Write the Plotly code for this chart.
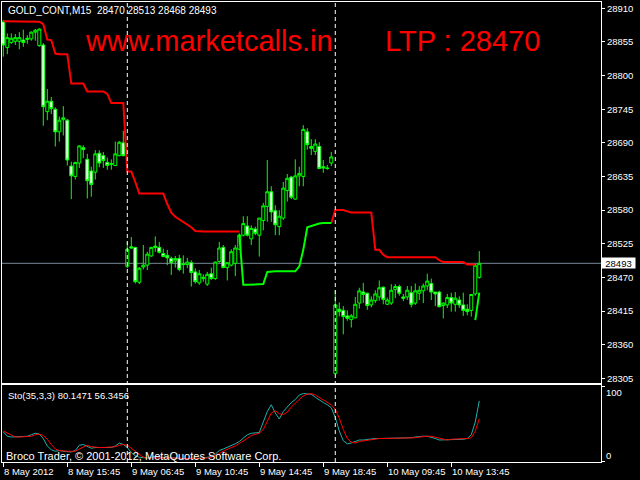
import plotly.graph_objects as go

# ---------------- data ----------------
bar_index = list(range(120))

opens = [28888, 28846, 28854, 28856, 28856, 28858, 28859, 28860, 28871, 28849,
         28850, 28741, 28758, 28745, 28708, 28728, 28727, 28652, 28635, 28657,
         28682, 28663, 28644, 28642, 28673, 28669, 28658, 28656, 28653, 28669,
         28690, 28488, 28520, 28519, 28462, 28487, 28490, 28505, 28521, 28519,
         28509, 28506, 28501, 28497, 28501, 28492, 28491, 28494, 28479, 28461,
         28468, 28459, 28476, 28468, 28496, 28519, 28486, 28490, 28493, 28516,
         28539, 28554, 28533, 28549, 28539, 28563, 28586, 28610, 28579, 28553,
         28567, 28612, 28634, 28598, 28636, 28635, 28708, 28684, 28676, 28684,
         28651, 28649, 28657, 28313, 28418, 28416, 28407, 28401, 28404, 28428,
         28446, 28444, 28425, 28432, 28438, 28454, 28426, 28428, 28450, 28455,
         28438, 28438, 28445, 28428, 28444, 28448, 28456, 28460, 28446, 28446,
         28424, 28425, 28437, 28426, 28433, 28425, 28418, 28416, 28443, 28470]

highs = [28891, 28869, 28869, 28868, 28871, 28875, 28866, 28872, 28876, 28877,
         28853, 28778, 28765, 28748, 28733, 28750, 28729, 28659, 28659, 28686,
         28686, 28672, 28651, 28678, 28678, 28675, 28666, 28663, 28692, 28693,
         28710, 28528, 28536, 28520, 28487, 28523, 28512, 28520, 28537, 28528,
         28517, 28515, 28504, 28505, 28507, 28506, 28502, 28498, 28485, 28482,
         28475, 28479, 28486, 28496, 28528, 28523, 28494, 28516, 28523, 28542,
         28570, 28570, 28555, 28553, 28567, 28592, 28662, 28619, 28588, 28580,
         28626, 28639, 28636, 28663, 28651, 28719, 28714, 28696, 28696, 28691,
         28662, 28654, 28675, 28449, 28429, 28423, 28416, 28410, 28438, 28453,
         28461, 28445, 28439, 28449, 28465, 28455, 28437, 28459, 28459, 28458,
         28443, 28456, 28456, 28460, 28456, 28460, 28476, 28468, 28446, 28448,
         28429, 28443, 28445, 28446, 28439, 28445, 28426, 28443, 28492, 28513]

lows = [28831, 28835, 28852, 28850, 28843, 28847, 28852, 28857, 28857, 28847,
        28718, 28727, 28737, 28684, 28692, 28702, 28653, 28598, 28630, 28649,
        28665, 28599, 28602, 28630, 28650, 28649, 28646, 28646, 28653, 28668,
        28668, 28485, 28517, 28460, 28459, 28483, 28482, 28504, 28512, 28509,
        28503, 28490, 28474, 28486, 28480, 28476, 28485, 28455, 28460, 28458,
        28463, 28456, 28466, 28466, 28494, 28485, 28465, 28488, 28472, 28515,
        28537, 28537, 28523, 28539, 28504, 28547, 28561, 28561, 28539, 28539,
        28564, 28594, 28598, 28597, 28619, 28619, 28679, 28670, 28670, 28648,
        28641, 28646, 28652, 28311, 28406, 28377, 28399, 28388, 28403, 28419,
        28428, 28417, 28421, 28428, 28432, 28426, 28425, 28425, 28436, 28440,
        28431, 28433, 28421, 28425, 28433, 28428, 28449, 28433, 28423, 28421,
        28403, 28420, 28414, 28414, 28420, 28407, 28408, 28406, 28440, 28468]

closes = [28850, 28862, 28861, 28862, 28862, 28854, 28861, 28871, 28874, 28876,
          28749, 28758, 28746, 28708, 28727, 28731, 28662, 28636, 28658, 28685,
          28679, 28628, 28622, 28672, 28657, 28661, 28653, 28655, 28672, 28691,
          28669, 28516, 28518, 28463, 28485, 28490, 28508, 28519, 28519, 28511,
          28504, 28502, 28494, 28501, 28483, 28491, 28495, 28478, 28463, 28476,
          28470, 28475, 28468, 28495, 28518, 28486, 28494, 28512, 28518, 28539,
          28558, 28539, 28550, 28542, 28567, 28587, 28610, 28577, 28556, 28570,
          28616, 28632, 28601, 28636, 28640, 28712, 28687, 28681, 28688, 28648,
          28649, 28648, 28667, 28425, 28414, 28406, 28403, 28407, 28426, 28448,
          28442, 28424, 28433, 28443, 28453, 28434, 28433, 28449, 28455, 28444,
          28436, 28449, 28426, 28448, 28449, 28456, 28464, 28446, 28443, 28422,
          28428, 28437, 28428, 28436, 28425, 28416, 28414, 28442, 28490, 28493]

N = None
upper_stop = [28889, 28889, 28889, 28889, 28889, 28889, 28889, 28889, 28889, 28888,
              28884, 28859, 28858, 28836, 28835, 28835, 28835, 28787, 28787, 28787,
              28787, 28774, 28774, 28774, 28774, 28774, 28770, 28755, 28755, 28755,
              28755, 28643, 28643, 28626, 28607, 28607, 28607, 28607, 28607, 28607,
              28607, 28590, 28576, 28569, 28565, 28561, 28556, 28552, 28546, 28545,
              28545, 28545, 28545, 28545, 28545, 28545, 28545, 28545, 28545, 28545,
              N, N, N, N, N, N, N, N, N, N,
              N, N, N, N, N, N, N, N, N, N,
              N, N, 28559, 28580, 28580, 28580, 28578, 28576, 28576, 28576,
              28576, 28576, 28576, 28515, 28515, 28507, 28503, 28503, 28503, 28503,
              28503, 28503, 28503, 28503, 28503, 28503, 28503, 28503, 28503, 28498,
              28495, 28495, 28495, 28495, 28495, 28495, 28491, 28491, 28491, N]

lower_stop = [N, N, N, N, N, N, N, N, N, N,
              N, N, N, N, N, N, N, N, N, N,
              N, N, N, N, N, N, N, N, N, N,
              N, N, N, N, N, N, N, N, N, N,
              N, N, N, N, N, N, N, N, N, N,
              N, N, N, N, N, N, N, N, N, 28540,
              28458, 28458, 28458, 28458, 28458, 28459, 28479, 28480, 28480, 28480,
              28480, 28480, 28480, 28480, 28488, 28515, 28552, 28554, 28557, 28558,
              28559, 28559, 28559, N, N, N, N, N, N, N,
              N, N, N, N, N, N, N, N, N, N,
              N, N, N, N, N, N, N, N, N, N,
              N, N, N, N, N, N, N, N, 28400, 28445]

sto_main = [39, 33, 32, 32, 32, 32, 33, 35, 37, 36,
            30, 20, 15, 13, 14, 13, 13, 12, 14, 21,
            22, 19, 17, 18, 18, 17, 18, 18, 20, 24,
            22, 18, 11, 7, 5, 4, 4, 5, 6, 5,
            5, 4, 4, 4, 3, 3, 4, 3, 3, 4,
            4, 5, 6, 9, 14, 16, 18, 20, 23, 26,
            30, 35, 37, 37, 38, 52, 66, 75, 64, 56,
            66, 72, 78, 82, 88, 90, 90, 89, 85, 81,
            78, 75, 71, 58, 40, 27, 23, 24, 26, 28,
            28, 29, 29, 30, 30, 30, 30, 30, 31, 30,
            30, 31, 31, 32, 33, 33, 33, 32, 30, 28,
            28, 29, 29, 29, 29, 29, 30, 35, 52, 80.1471]

sto_signal = [40, 37, 34, 32, 32, 32, 33, 33, 35, 36,
              34, 29, 22, 16, 14, 13, 13, 13, 13, 16,
              19, 21, 19, 18, 18, 18, 18, 18, 19, 21,
              22, 21, 17, 12, 8, 5, 4, 4, 5, 5,
              5, 5, 4, 4, 4, 3, 3, 3, 3, 3,
              4, 4, 5, 7, 10, 13, 16, 18, 20, 23,
              26, 30, 34, 36, 37, 42, 52, 64, 67, 63,
              62, 65, 72, 77, 83, 87, 89, 90, 88, 85,
              81, 78, 75, 69, 57, 42, 30, 25, 24, 26,
              27, 28, 29, 29, 30, 30, 30, 30, 30, 30,
              30, 30, 31, 31, 32, 33, 33, 33, 32, 30,
              29, 28, 29, 29, 29, 29, 30, 31, 40, 56.3456]

price_ticks = [28305, 28360, 28415, 28470, 28525, 28580, 28635, 28690, 28745, 28800, 28855, 28910]
price_tick_labels = ["28305", "28360", "28415", "28470", "28525", "28580",
                     "28635", "28690", "28745", "28800", "28855", "28910"]
time_tick_bars = [0, 16, 32, 48, 64, 80, 96, 112]
time_tick_labels = ["8 May 2012", "8 May 15:45", "9 May 06:45", "9 May 10:45",
                    "9 May 14:45", "9 May 18:45", "10 May 09:45", "10 May 13:45"]
separator_bars = [31, 83]
last_price = 28493
header_text = "GOLD_CONT,M15\u00a0\u00a028470 28513 28468 28493"
sto_text = "Sto(35,3,3) 80.1471 56.3456"

# ---------------- figure ----------------
FONT = "Liberation Sans"
fig = go.Figure()

fig.add_trace(go.Candlestick(
    x=bar_index, open=opens, high=highs, low=lows, close=closes,
    increasing=dict(line=dict(color="#00FF00", width=1), fillcolor="#000000"),
    decreasing=dict(line=dict(color="#00FF00", width=1), fillcolor="#FFFFFF"),
    whiskerwidth=0, showlegend=False, hoverinfo="skip", xaxis="x", yaxis="y"))

fig.add_trace(go.Scatter(x=bar_index, y=upper_stop, mode="lines",
                         line=dict(color="#FF0000", width=2), connectgaps=False,
                         showlegend=False, hoverinfo="skip", xaxis="x", yaxis="y"))
fig.add_trace(go.Scatter(x=bar_index, y=lower_stop, mode="lines",
                         line=dict(color="#00FF00", width=2), connectgaps=False,
                         showlegend=False, hoverinfo="skip", xaxis="x", yaxis="y"))

fig.add_trace(go.Scatter(x=bar_index, y=sto_main, mode="lines",
                         line=dict(color="#20B2AA", width=1),
                         showlegend=False, hoverinfo="skip", xaxis="x2", yaxis="y2"))
fig.add_trace(go.Scatter(x=bar_index, y=sto_signal, mode="lines",
                         line=dict(color="#FF0000", width=1),
                         showlegend=False, hoverinfo="skip", xaxis="x2", yaxis="y2"))

W, H = 640, 480
ML, MR, MT, MB = 2, 39, 2, 18
plot_h = H - MT - MB
main_bottom_px = 383
sub_top_px = 385

def py(pix):
    return (H - MB - pix) / plot_h

xr = [-0.325, 149.43]
axis_common = dict(showgrid=False, zeroline=False, showline=True, mirror=True,
                   linecolor="white", linewidth=1)

fig.update_layout(
    width=W, height=H,
    margin=dict(l=ML, r=MR, t=MT, b=MB, pad=0),
    paper_bgcolor="#000000", plot_bgcolor="#000000",
    font=dict(family=FONT, color="white", size=10),
    boxgap=0.25, boxgroupgap=0,
    xaxis=dict(domain=[0, 1], range=xr, anchor="y", showticklabels=False, ticks="",
               rangeslider=dict(visible=False), **axis_common),
    yaxis=dict(domain=[py(main_bottom_px), 1], range=[28297.3, 28920.3], side="right",
               tickvals=price_ticks, ticktext=price_tick_labels,
               ticks="outside", ticklen=3, tickcolor="white",
               tickfont=dict(family=FONT, size=9.5, color="white"), **axis_common),
    xaxis2=dict(domain=[0, 1], range=xr, anchor="y2", matches="x",
                tickvals=time_tick_bars, ticks="outside", ticklen=4, tickcolor="white",
                showticklabels=False, **axis_common),
    yaxis2=dict(domain=[0, py(sub_top_px)], range=[-1.33, 101.33], side="right",
                tickvals=[0, 100], ticks="outside", ticklen=3, tickcolor="white",
                showticklabels=False, **axis_common),
)

shapes = [dict(type="line", xref="x domain", x0=0, x1=1, yref="y",
               y0=last_price, y1=last_price, line=dict(color="#778899", width=1),
               layer="below")]
for b in separator_bars:
    shapes.append(dict(type="line", xref="x", x0=b, x1=b, yref="paper", y0=0, y1=1,
                       line=dict(color="white", width=1, dash="4px,3px"), layer="above"))
fig.update_layout(shapes=shapes)

ann = []
ann.append(dict(text=header_text, xref="paper", x=0, xshift=4, xanchor="left",
                yref="paper", y=py(10.5), yanchor="middle", showarrow=False,
                font=dict(family=FONT, size=10, color="white")))
ann.append(dict(text="www.marketcalls.in", xref="paper", x=(83 - ML) / (W - ML - MR),
                xanchor="left", yref="paper", y=py(41), yanchor="middle", showarrow=False,
                font=dict(family=FONT, size=29, color="#FF0000")))
ann.append(dict(text="LTP : 28470", xref="paper", x=(383 - ML) / (W - ML - MR),
                xanchor="left", yref="paper", y=py(41), yanchor="middle", showarrow=False,
                font=dict(family=FONT, size=29, color="#FF0000")))
ann.append(dict(text=str(last_price), xref="paper", x=1, xshift=0, xanchor="left",
                yref="y", y=last_price, yanchor="middle", showarrow=False,
                bgcolor="white", borderpad=0, width=33, height=10, align="center",
                font=dict(family=FONT, size=9.5, color="black")))
ann.append(dict(text=sto_text, xref="paper", x=0, xshift=4, xanchor="left",
                yref="paper", y=py(395.7), yanchor="middle", showarrow=False,
                font=dict(family=FONT, size=9.5, color="white")))
ann.append(dict(text="Broco Trader, © 2001-2012, MetaQuotes Software Corp.",
                xref="paper", x=0, xshift=2, xanchor="left",
                yref="paper", y=py(456), yanchor="middle", showarrow=False,
                font=dict(family=FONT, size=11, color="white")))
ann.append(dict(text="100", xref="paper", x=1, xshift=3, xanchor="left",
                yref="paper", y=py(392.7), yanchor="middle", showarrow=False,
                font=dict(family=FONT, size=9.5, color="white")))
ann.append(dict(text="0", xref="paper", x=1, xshift=3, xanchor="left",
                yref="paper", y=py(455.3), yanchor="middle", showarrow=False,
                font=dict(family=FONT, size=9.5, color="white")))
for b, lab in zip(time_tick_bars, time_tick_labels):
    ann.append(dict(text=lab, xref="x2", x=b, xanchor="left", xshift=-1,
                    yref="paper", y=py(471), yanchor="middle", showarrow=False,
                    font=dict(family=FONT, size=9.5, color="white")))
fig.update_layout(annotations=ann)

fig.write_html("out.html", config={"displayModeBar": False},
               post_script="document.body.style.margin='0px';document.body.style.padding='0px';document.body.style.overflow='hidden';")
